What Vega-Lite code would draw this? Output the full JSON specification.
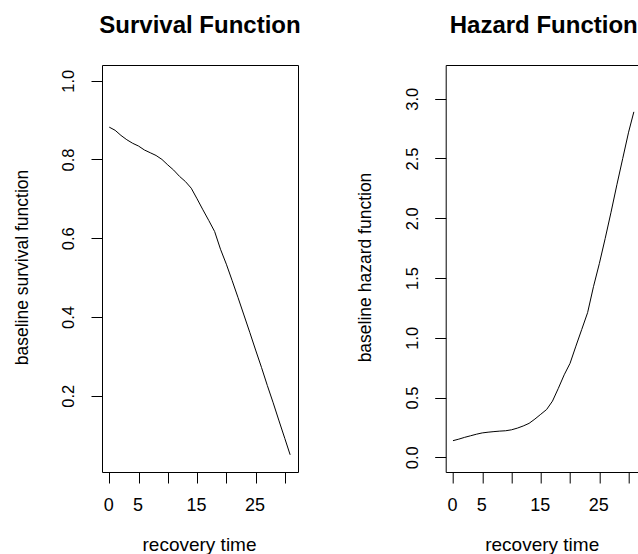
{
  "$schema": "https://vega.github.io/schema/vega-lite/v6.json",
  "autosize": {"type": "pad"},
  "padding": {"left": 12, "top": 13, "right": 0, "bottom": 0},
  "bounds": "flush",
  "spacing": 147.7,
  "background": "white",
  "config": {
    "view": {"stroke": "#000", "strokeWidth": 1},
    "font": "Liberation Sans",
    "axis": {
      "domain": false,
      "grid": false,
      "tickColor": "#000",
      "tickSize": 11,
      "tickWidth": 1,
      "labelColor": "#000",
      "titleColor": "#000",
      "labelFont": "Liberation Sans",
      "titleFont": "Liberation Sans",
      "titleFontWeight": "normal"
    },
    "title": {"font": "Liberation Sans", "fontSize": 24, "fontWeight": "bold", "color": "#000", "anchor": "middle", "baseline": "alphabetic", "offset": 27}
  },
  "datasets": {
    "survival": [
      {"time": 0, "value": 0.882}, {"time": 1, "value": 0.874}, {"time": 2, "value": 0.861},
      {"time": 3, "value": 0.850}, {"time": 4, "value": 0.841}, {"time": 5, "value": 0.834},
      {"time": 6, "value": 0.824}, {"time": 7, "value": 0.817}, {"time": 8, "value": 0.810},
      {"time": 9, "value": 0.800}, {"time": 10, "value": 0.786}, {"time": 11, "value": 0.773},
      {"time": 12, "value": 0.757}, {"time": 13, "value": 0.744}, {"time": 14, "value": 0.727},
      {"time": 15, "value": 0.700}, {"time": 16, "value": 0.672}, {"time": 17, "value": 0.645},
      {"time": 18, "value": 0.617}, {"time": 19, "value": 0.572}, {"time": 20, "value": 0.534},
      {"time": 21, "value": 0.492}, {"time": 22, "value": 0.449}, {"time": 23, "value": 0.405},
      {"time": 24, "value": 0.361}, {"time": 25, "value": 0.316}, {"time": 26, "value": 0.272},
      {"time": 27, "value": 0.226}, {"time": 28, "value": 0.182}, {"time": 29, "value": 0.136},
      {"time": 30, "value": 0.091}, {"time": 30.9, "value": 0.050}
    ],
    "hazard": [
      {"time": 0, "value": 0.139}, {"time": 1, "value": 0.152}, {"time": 2, "value": 0.167},
      {"time": 3, "value": 0.180}, {"time": 4, "value": 0.193}, {"time": 5, "value": 0.204},
      {"time": 6, "value": 0.210}, {"time": 7, "value": 0.215}, {"time": 8, "value": 0.219},
      {"time": 9, "value": 0.222}, {"time": 10, "value": 0.230}, {"time": 11, "value": 0.244},
      {"time": 12, "value": 0.262}, {"time": 13, "value": 0.284}, {"time": 14, "value": 0.320},
      {"time": 15, "value": 0.360}, {"time": 16, "value": 0.400}, {"time": 17, "value": 0.470},
      {"time": 18, "value": 0.577}, {"time": 19, "value": 0.690}, {"time": 20, "value": 0.786},
      {"time": 21, "value": 0.930}, {"time": 22, "value": 1.070}, {"time": 23, "value": 1.210},
      {"time": 24, "value": 1.427}, {"time": 25, "value": 1.620}, {"time": 26, "value": 1.830},
      {"time": 27, "value": 2.050}, {"time": 28, "value": 2.280}, {"time": 29, "value": 2.500},
      {"time": 30, "value": 2.720}, {"time": 30.9, "value": 2.890}
    ]
  },
  "hconcat": [
    {
      "width": 196,
      "height": 407,
      "title": {"text": "Survival Function"},
      "data": {"name": "survival"},
      "mark": {"type": "line", "color": "#000", "strokeWidth": 1, "clip": true},
      "encoding": {
        "x": {
          "field": "time", "type": "quantitative",
          "scale": {"domain": [-1.24, 32.24], "nice": false, "zero": false},
          "axis": {
            "values": [0, 5, 10, 15, 20, 25, 30],
            "labelExpr": "(datum.value == 0 || datum.value == 5 || datum.value == 15 || datum.value == 25) ? datum.label : ''",
            "labelFontSize": 18, "labelPadding": 13, "labelOffset": -1,
            "title": "recovery time", "titleFontSize": 19,
            "titleBaseline": "alphabetic", "titleAlign": "center", "titleAnchor": null,
            "titleX": 97, "titleY": 78
          }
        },
        "y": {
          "field": "value", "type": "quantitative",
          "scale": {"domain": [0.0063, 1.0398], "nice": false, "zero": false},
          "axis": {
            "values": [0.2, 0.4, 0.6, 0.8, 1.0], "format": ".1f",
            "labelAngle": -90, "labelAlign": "center", "labelBaseline": "alphabetic",
            "labelFontSize": 16.5, "labelPadding": 17.7,
            "title": "baseline survival function", "titleFontSize": 17.5,
            "titleAngle": -90, "titleBaseline": "alphabetic", "titleAlign": "center",
            "titleX": -75, "titleY": 202
          }
        }
      }
    },
    {
      "width": 196,
      "height": 407,
      "title": {"text": "Hazard Function"},
      "data": {"name": "hazard"},
      "mark": {"type": "line", "color": "#000", "strokeWidth": 1, "clip": true},
      "encoding": {
        "x": {
          "field": "time", "type": "quantitative",
          "scale": {"domain": [-1.24, 32.24], "nice": false, "zero": false},
          "axis": {
            "values": [0, 5, 10, 15, 20, 25, 30],
            "labelExpr": "(datum.value == 0 || datum.value == 5 || datum.value == 15 || datum.value == 25) ? datum.label : ''",
            "labelFontSize": 18, "labelPadding": 13, "labelOffset": -1,
            "title": "recovery time", "titleFontSize": 19,
            "titleBaseline": "alphabetic", "titleAlign": "center", "titleAnchor": null,
            "titleX": 96, "titleY": 78
          }
        },
        "y": {
          "field": "value", "type": "quantitative",
          "scale": {"domain": [-0.123, 3.282], "nice": false, "zero": false},
          "axis": {
            "values": [0, 0.5, 1, 1.5, 2, 2.5, 3], "format": ".1f",
            "labelAngle": -90, "labelAlign": "center", "labelBaseline": "alphabetic",
            "labelFontSize": 16.5, "labelPadding": 17.2,
            "title": "baseline hazard function", "titleFontSize": 17.5,
            "titleAngle": -90, "titleBaseline": "alphabetic", "titleAlign": "center",
            "titleX": -75, "titleY": 202
          }
        }
      }
    }
  ]
}
